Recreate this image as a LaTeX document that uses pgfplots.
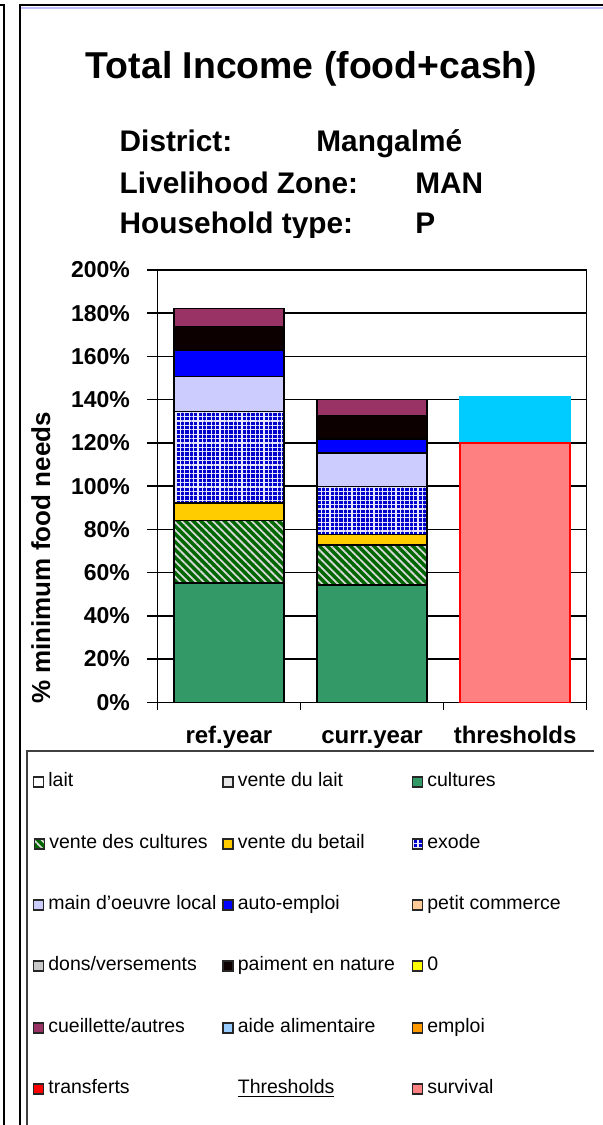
\documentclass[border=0pt]{standalone}
\usepackage{fontspec}
\setmainfont{Liberation Sans}
\usepackage{pgfplots}
\pgfplotsset{compat=1.18}
\usetikzlibrary{patterns,patterns.meta}

\definecolor{cultures}{HTML}{339966}
\definecolor{ventecult}{HTML}{006600}
\definecolor{betail}{HTML}{FFCC00}
\definecolor{exode}{HTML}{0000CC}
\definecolor{mainoeuvre}{HTML}{CCCCFF}
\definecolor{autoemploi}{HTML}{0000FF}
\definecolor{paiment}{HTML}{0D0000}
\definecolor{cueillette}{HTML}{993366}
\definecolor{survival}{HTML}{FF8080}
\definecolor{protect}{HTML}{00CCFF}
\definecolor{ventelait}{HTML}{E6E6E6}
\definecolor{commerce}{HTML}{FFCC99}
\definecolor{dons}{HTML}{C8C8C8}
\definecolor{zero}{HTML}{FFFF00}
\definecolor{aide}{HTML}{99CCFF}
\definecolor{emploi}{HTML}{FF9900}
\definecolor{transf}{HTML}{FF0000}

\tikzset{
  stripes/.style={postaction={pattern={Lines[angle=-45,distance=2.75pt,line width=0.9pt]},pattern color=white!85!black}},
  checks/.style={postaction={pattern={Hatch[angle=0,distance=2.2pt,line width=0.6pt]},pattern color=white!90!blue}},
}

\begin{document}
\begin{tikzpicture}
\useasboundingbox (0,0) rectangle (301pt,-562.5pt);

% frame lines round the chart
\begin{scope}[x=0.5pt,y=-0.5pt]
  \draw[line width=1pt] (-2,5) -- (4,5) -- (4,1130);
  \draw[line width=1pt] (20,1130) -- (20,5) -- (610,5);
  \draw[line width=0.6pt, color=blue!25] (21,8) -- (610,8);
  \draw[line width=0.8pt, black!75] (27,1130) -- (27,751) -- (594,751);
\end{scope}

% titles
\begin{scope}[x=0.5pt,y=-0.5pt, every node/.style={inner sep=0pt, anchor=base west}]
  \node[font=\fontsize{18.7}{20}\bfseries] at (85.5,78.3) {Total Income (food+cash)};
  \begin{scope}[font=\fontsize{14.9}{16}\bfseries]
    \clip (100,100) rectangle (590,237.5);
    \node at (119.3,151.7) {District:};
    \node at (316,151.7) {Mangalmé};
    \node at (119.3,193.3) {Livelihood Zone:};
    \node at (415,193.3) {MAN};
    \node at (119.3,233.3) {Household type:};
    \node at (415,233.3) {P};
  \end{scope}
  \node[font=\fontsize{13}{14}\bfseries, rotate=90, anchor=base] at (50,558) {\% minimum food needs};
\end{scope}

\begin{axis}[
  at={(78.65pt,-351.15pt)}, anchor=south west,
  scale only axis, width=214.7pt, height=216.15pt,
  xmin=-0.5, xmax=2.5, ymin=0, ymax=200,
  ybar stacked, bar width=0.77, clip=false,
  xtick={0,1,2},
  xticklabels={ref.year,curr.year,thresholds},
  minor xtick={-0.5,0.5,1.5,2.5},
  ytick={0,20,...,200},
  yticklabel={\pgfmathprintnumber{\tick}\%},
  /pgf/number format/assume math mode=true,
  xtick pos=bottom, ytick pos=left,
  tick align=outside,
  major tick length=5pt, minor tick length=4pt,
  major x tick style={draw=none},
  tick style={line width=0.75pt, black},
  axis line style={line width=0.75pt},
  ymajorgrids, major grid style={line width=0.75pt, black},
  yticklabel style={font=\fontsize{11.5}{12}\bfseries, anchor=east, inner sep=0pt, xshift=-8.5pt},
  xticklabel style={font=\fontsize{12}{13}\bfseries, anchor=base, inner sep=0pt, yshift=-15.6pt},
  every axis plot/.append style={draw=black, line width=0.75pt},
]
  % ref.year, curr.year
  \addplot[fill=cultures] coordinates {(0,55.1) (1,54.2)};
  \addplot[fill=ventecult, stripes] coordinates {(0,29.0) (1,18.6)};
  \addplot[fill=betail] coordinates {(0,8.0) (1,4.8)};
  \addplot[fill=exode, checks] coordinates {(0,42.4) (1,22.2)};
  \addplot[fill=mainoeuvre] coordinates {(0,16.2) (1,15.5)};
  \addplot[fill=autoemploi] coordinates {(0,12.4) (1,6.5)};
  \addplot[fill=paiment] coordinates {(0,10.8) (1,10.9)};
  \addplot[fill=cueillette] coordinates {(0,8.3) (1,7.3)};
\end{axis}

\begin{axis}[
  at={(78.65pt,-351.15pt)}, anchor=south west,
  scale only axis, width=214.7pt, height=216.15pt,
  xmin=-0.5, xmax=2.5, ymin=0, ymax=200,
  hide axis, ybar stacked, bar width=0.77, clip=false,
]
  % thresholds
  \addplot[fill=survival, draw=red, line width=0.75pt] coordinates {(2,120)};
  \addplot[fill=protect, draw=protect, line width=0.75pt] coordinates {(2,21.5)};
\end{axis}

% legend
\begin{scope}[x=0.5pt,y=-0.5pt]
  \def\mk#1#2#3#4{\fill[#3] (#1,#2-9) rectangle ++(10,10);
    \draw[line width=0.8pt, black!85] (#1,#2-9) rectangle ++(10,10);
    \node[inner sep=0pt, anchor=base west, font=\fontsize{9.75}{10}\selectfont] at (#1+14.5,#2) {#4};}
  % column 1
  \mk{33.5}{786}{white}{lait}
  \mk{34.5}{848}{fill=ventecult, stripes}{vente des cultures}
  \mk{33.5}{909}{mainoeuvre}{main d'oeuvre local}
  \mk{33.5}{970}{dons}{dons/versements}
  \mk{33.5}{1032}{cueillette}{cueillette/autres}
  \mk{33.5}{1093}{transf}{transferts}
  % column 2
  \mk{223}{786}{ventelait}{vente du lait}
  \mk{223}{848}{betail}{vente du betail}
  \mk{223}{909}{autoemploi}{auto-emploi}
  \mk{223}{970}{paiment}{paiment en nature}
  \mk{223}{1032}{aide}{aide alimentaire}
  \node[inner sep=0pt, anchor=base west, font=\fontsize{9.75}{10}\selectfont] at (237.5,1093) {\underline{Thresholds}};
  % column 3
  \mk{412.5}{786}{cultures}{cultures}
  \mk{412.5}{848}{fill=exode, checks}{exode}
  \mk{412.5}{909}{commerce}{petit commerce}
  \mk{412.5}{970}{zero}{0}
  \mk{412.5}{1032}{emploi}{emploi}
  \mk{412.5}{1093}{survival}{survival}
\end{scope}
\end{tikzpicture}
\end{document}
